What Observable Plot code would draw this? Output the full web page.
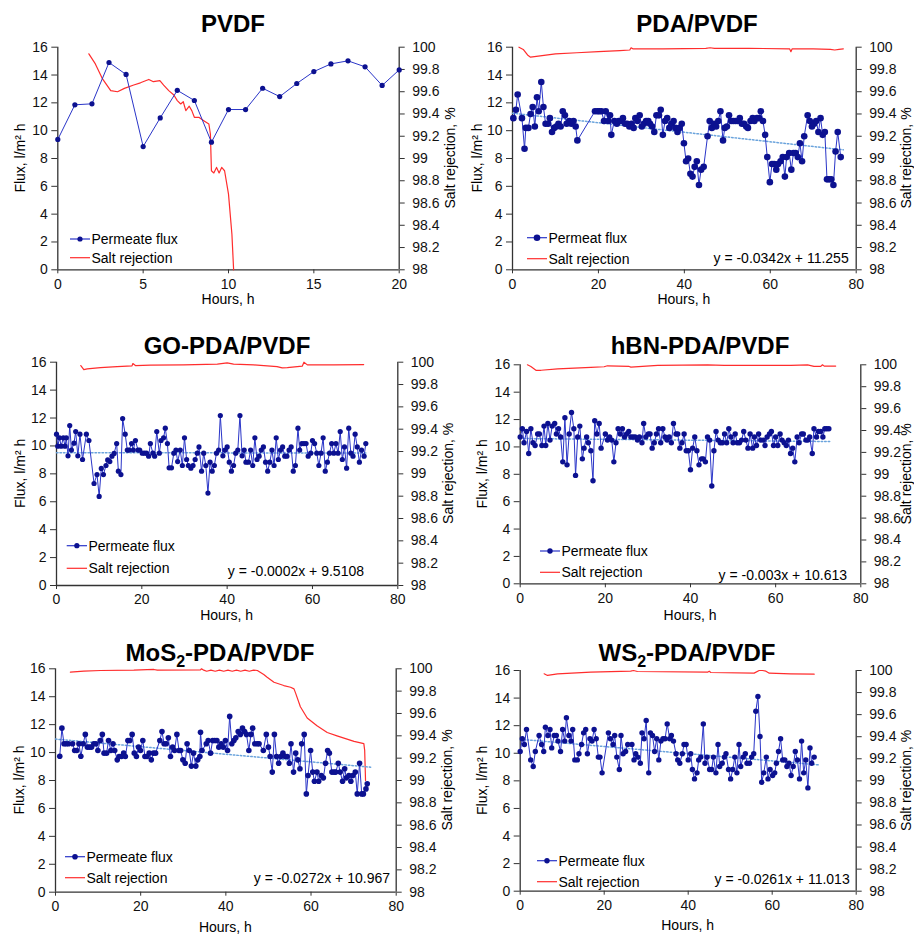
<!DOCTYPE html>
<html><head><meta charset="utf-8">
<script src="https://cdn.jsdelivr.net/npm/d3@7"></script>
<script src="https://cdn.jsdelivr.net/npm/@observablehq/plot@0.6"></script>
<style>
body{margin:0;background:#fff;}
#root{position:relative;width:914px;height:935px;overflow:hidden;background:#fff;}
#root svg{position:absolute;overflow:visible;}
</style></head><body><div id="root"></div>
<script>
// ---------- tick values / labels ----------
const fluxTicks = [0, 2, 4, 6, 8, 10, 12, 14, 16];
const srTicks = [98, 98.2, 98.4, 98.6, 98.8, 99, 99.2, 99.4, 99.6, 99.8, 100];
const xTicksShort = [0, 5, 10, 15, 20];
const xTicksLong = [0, 20, 40, 60, 80];
const titles = ["PVDF", "PDA/PVDF", "GO-PDA/PVDF", "hBN-PDA/PVDF", "MoS₂-PDA/PVDF", "WS₂-PDA/PVDF"];
const fluxLegend = ["Permeate flux", "Permeat flux", "Permeate flux", "Permeate flux", "Permeate flux", "Permeate flux"];
const srLegend = "Salt rejection";
const yLabel = "Flux, l/m² h";
const y2Label = "Salt rejection, %";
const xLabel = "Hours, h";
const equations = [null, "y = -0.0342x + 11.255", "y = -0.0002x + 9.5108", "y = -0.003x + 10.613", "y = -0.0272x + 10.967", "y = -0.0261x + 11.013"];
const trendSlope = [null, -0.0342, -0.0002, -0.003, -0.0272, -0.0261];
const trendIntercept = [null, 11.255, 9.5108, 10.613, 10.967, 11.013];
const trendEnd = [null, 77, 72.5, 73, 74, 71];

// ---------- PVDF ----------
const pvdfHours = [0,1,2,3,4,5,6,7,8,9,10,11,12,13,14,15,16,17,18,19,20];
const pvdfFlux = [9.37,11.86,11.93,14.9,14.04,8.86,10.92,12.9,12.17,9.17,11.52,11.52,13.05,12.45,13.39,14.25,14.8,15.02,14.59,13.25,14.37];
const pvdfSrHours = [1.82,2.2,2.6,3.1,3.5,3.9,4.45,4.84,5.33,5.6,5.98,6.2,6.5,6.8,7.0,7.2,7.35,7.5,7.7,7.85,8.0,8.26,8.55,8.85,8.94,9.0,9.14,9.3,9.45,9.6,9.77,10.0,10.2,10.3];
const pvdfSr = [99.94,99.85,99.72,99.61,99.60,99.63,99.66,99.68,99.71,99.69,99.70,99.66,99.61,99.57,99.52,99.49,99.51,99.43,99.47,99.43,99.37,99.37,99.34,99.31,99.22,98.89,98.87,98.92,98.87,98.92,98.89,98.68,98.32,98.0];

// ---------- PDA/PVDF ----------
const pdaHours = [0.2,0.8,1.2,2.2,2.8,3.1,3.7,4.2,4.7,5.2,5.7,6.1,6.7,7.2,7.7,8.3,8.7,9.2,9.7,10.2,10.7,11.2,11.7,12.2,12.6,13.2,13.7,14.2,14.7,15.1,19.2,19.8,20.2,20.7,21.3,21.7,22.3,22.7,23.0,23.7,24.3,24.7,25.2,25.7,26.2,26.7,27.2,27.7,28.2,28.6,29.1,29.6,30.1,30.6,31.1,31.6,32.0,32.5,33.0,33.5,34.1,34.5,35.0,35.5,36.0,36.5,37.0,37.5,37.9,38.4,38.9,39.4,39.9,40.4,40.9,41.4,41.9,42.4,42.9,43.4,43.9,44.5,45.4,45.9,46.4,46.9,47.4,47.9,48.4,49.0,49.4,49.9,50.4,50.9,51.4,51.9,52.4,52.9,53.4,53.9,54.4,54.8,55.4,55.9,56.3,56.9,57.4,57.8,58.3,58.8,59.3,59.9,60.4,60.9,61.4,61.8,62.4,62.9,63.4,63.8,64.4,64.9,65.4,65.9,66.4,66.9,67.4,67.9,68.7,69.2,69.7,70.2,70.7,71.2,71.7,72.2,72.7,73.2,73.7,74.2,74.7,75.2,75.7,76.4];
const pdaFlux = [10.9,11.5,12.6,10.9,8.7,10.2,10.2,11.2,11.7,10.3,12.4,11.4,13.5,11.7,10.5,10.5,10.9,9.9,10.2,10.3,10.5,10.3,11.4,11.1,10.5,10.7,10.5,10.7,10.3,9.3,11.4,11.4,11.4,11.4,10.7,11.4,10.7,11.1,9.7,10.7,10.5,10.7,10.7,10.9,10.5,10.5,10.3,10.5,10.2,10.9,10.7,11.1,10.3,10.5,10.7,10.7,10.5,10.3,9.9,11.1,11.1,11.5,9.7,10.7,10.9,10.2,10.5,10.7,10.2,9.9,10.2,10.5,9.1,7.8,8.0,6.9,6.7,7.4,7.8,6.1,7.2,7.4,9.6,10.7,10.2,10.5,10.3,10.7,11.4,9.3,10.2,10.3,11.1,10.7,10.7,10.7,10.7,10.9,10.5,10.5,10.3,10.2,10.7,10.9,10.7,10.9,10.9,11.4,10.7,9.7,8.1,6.3,7.6,7.6,7.2,7.6,7.8,8.1,6.7,8.1,8.4,7.2,8.4,8.4,8.1,9.1,7.8,9.6,11.1,10.7,10.3,10.5,10.7,9.9,10.9,9.7,9.9,6.5,6.5,6.5,6.1,8.5,9.9,8.1];
const pdaSrHours = [1.5,2.5,3.5,4.2,6,10,15,20,25,27.3,27.6,28,35,45,46,47,55,64.5,64.8,65.1,70,74,75,76,77];
const pdaSr = [100.0,99.98,99.93,99.91,99.92,99.94,99.95,99.96,99.97,99.975,99.995,99.985,99.985,99.99,99.995,99.99,99.99,99.985,99.96,99.985,99.985,99.98,99.975,99.98,99.985];

// ---------- GO-PDA/PVDF ----------
const goHours = [0,0.3,0.7,1.1,1.6,2.0,2.3,2.7,3.1,3.5,4.1,4.5,5.0,5.5,6.1,7.0,7.6,8.8,9.5,10.0,10.5,11.0,11.6,12.0,12.5,13.0,13.5,14.1,14.5,15.1,15.5,16.1,16.6,17.0,17.6,18.0,18.5,19.1,19.5,20.1,20.6,21.1,21.6,22.0,22.6,23.0,23.5,24.1,24.5,25.1,25.5,26.0,26.4,26.95,27.5,28.0,28.4,29.0,29.5,30.0,30.5,30.9,31.5,32.0,32.5,33.0,33.4,34.0,34.5,35.0,35.5,36.0,36.5,37.0,37.5,38.0,38.4,39.0,39.5,40.0,40.5,41.0,41.5,42.0,42.5,43.0,43.5,44.0,44.4,45.0,45.5,46.0,46.5,47.0,47.5,48.0,48.5,49.0,49.5,50.0,50.5,51.0,51.5,52.0,52.5,53.0,53.5,54.0,54.5,55.0,55.5,56.0,56.6,57.0,57.5,58.0,58.5,59.0,59.6,60.0,60.5,61.0,61.5,62.0,62.5,63.0,63.5,64.0,64.5,65.0,65.5,66.0,66.5,67.0,67.5,68.0,68.5,69.0,69.5,70.0,70.5,71.0,71.5,72.1,72.5];
const goFlux = [10.84,9.98,10.58,9.98,10.58,9.98,10.58,9.29,11.46,9.7,10.2,11.03,9.29,10.84,9.03,10.84,10.39,7.31,7.95,6.38,8.39,7.95,8.6,9.0,8.88,9.27,9.46,10.17,8.19,7.95,11.96,10.84,9.7,9.7,10.17,9.7,10.39,9.7,9.7,9.48,9.48,9.48,9.27,10.17,9.48,9.27,11.03,9.48,10.39,10.58,11.27,10.17,8.43,8.43,9.48,9.7,8.88,9.7,8.6,10.58,9.03,8.6,8.41,8.6,9.03,9.48,9.93,8.19,9.48,8.6,6.62,8.84,8.19,8.6,9.48,9.7,12.18,9.29,9.7,9.93,8.84,8.19,8.6,9.48,9.7,12.18,9.29,9.7,8.84,8.84,9.7,8.6,10.58,9.03,9.27,9.7,9.93,8.84,8.19,8.84,9.7,8.6,10.58,9.03,9.7,9.93,9.27,9.27,9.7,9.93,8.19,8.6,11.27,9.7,10.17,10.17,10.17,9.27,9.48,10.39,10.17,9.48,8.6,9.48,10.58,8.19,8.84,9.48,10.17,9.48,10.17,9.48,11.03,9.03,9.93,8.41,11.27,9.48,9.27,10.84,9.93,8.84,9.7,9.27,10.17];
const goSrHours = [5.7,6.4,7.2,10.3,14.2,17.7,17.9,18.5,22,29.8,37.7,40,41.5,46.25,51.7,52.9,54.1,57.6,58,58.8,65,72];
const goSr = [99.97,99.934,99.94,99.952,99.961,99.967,99.988,99.97,99.973,99.976,99.982,99.994,99.982,99.976,99.96,99.949,99.952,99.964,100.0,99.976,99.976,99.979];

// ---------- hBN-PDA/PVDF ----------
const hbnHours = [0,0.5,0.9,1.5,2.0,2.5,3.0,3.5,4.1,4.5,5.1,5.6,6.0,6.5,7.0,7.5,8.1,8.5,9.0,9.5,10.0,10.5,11.0,11.5,12.05,12.6,13.0,13.5,14.0,14.6,15.0,15.6,16.0,16.6,17.1,17.5,18.0,18.55,19.0,20.0,20.5,21.0,21.5,22.0,22.5,23.0,23.5,24.0,24.5,25.0,25.5,26.0,26.5,27.0,27.55,28.0,28.6,29.0,29.5,30.1,30.5,31.0,31.5,32.0,32.5,33.0,33.5,34.0,34.5,35.0,35.5,36.0,36.6,37.0,37.5,38.0,38.5,39.0,39.5,40.0,40.5,41.0,41.5,42.0,42.6,43.0,43.5,44.0,44.5,45.0,45.5,46.0,46.5,47.0,47.5,48.0,48.5,49.0,49.5,50.0,50.5,51.0,51.5,52.0,52.5,53.0,53.5,54.0,54.6,55.0,55.5,56.0,56.5,57.1,57.5,58.0,58.55,59.0,59.5,60.0,60.5,61.05,61.5,62.0,62.5,63.0,63.5,64.0,64.5,65.05,65.5,66.1,66.5,67.1,67.55,68.0,68.6,69.0,69.6,70.05,70.6,71.1,71.55,72.0,72.5];
const hbnFlux = [10.72,11.33,10.3,11.13,9.52,11.33,10.3,10.1,10.94,10.94,10.1,11.52,10.1,11.71,10.5,11.52,11.71,10.94,11.33,10.72,8.91,12.13,8.69,10.94,12.52,11.33,7.92,10.72,11.52,9.13,9.91,10.72,10.3,9.72,7.53,11.91,10.94,11.71,9.91,10.94,10.5,10.72,10.5,8.91,10.3,11.33,10.94,11.33,10.72,10.94,11.13,10.72,10.72,10.72,10.5,10.72,10.3,11.71,10.72,10.94,10.94,9.91,10.3,10.94,11.33,10.3,11.33,10.72,10.5,10.72,10.3,11.71,10.94,10.94,9.91,10.3,10.94,9.72,9.72,8.33,9.91,10.72,9.72,8.69,9.13,9.13,8.91,10.72,10.5,7.14,9.72,11.13,10.5,10.3,10.3,10.94,10.3,11.33,10.72,10.3,10.94,10.3,10.3,10.5,11.13,10.5,9.91,10.94,9.91,10.72,10.1,10.94,10.5,10.5,10.1,10.72,10.94,11.13,10.1,10.72,10.1,10.94,10.5,10.3,10.1,10.5,9.52,9.91,8.91,10.72,10.3,10.94,10.94,10.5,10.5,10.72,9.52,11.33,10.72,11.13,11.13,10.72,11.33,11.33,11.33];
const hbnSrHours = [1.7,2.5,3.7,4.9,8.8,16.6,19.7,20.5,25.6,26,32.3,44,47.9,63.6,67.5,69,70.6,71,71.4,74.1];
const hbnSr = [100.0,99.985,99.95,99.95,99.963,99.976,99.982,99.991,99.985,99.979,99.994,100.0,99.994,99.994,100.0,99.985,99.985,100.0,99.988,99.988];

// ---------- MoS2-PDA/PVDF ----------
const mosHours = [1.0,1.5,2.0,2.5,3.05,4.0,4.5,5.0,5.5,5.95,6.5,7.0,7.5,8.0,8.45,9.0,9.5,9.95,10.5,11.0,11.4,12.0,12.45,13.0,13.5,13.9,14.5,14.95,15.5,16.0,16.4,17.0,17.45,18.0,18.5,19.0,19.5,19.95,20.5,21.0,21.5,22.0,22.5,23.0,23.5,24.5,25.0,25.5,26.0,26.5,27.0,27.5,27.95,28.5,29.0,29.4,29.9,30.45,30.9,31.4,31.9,32.4,32.95,33.4,33.9,34.05,34.4,35.4,35.85,36.4,36.9,37.4,37.9,38.35,38.9,39.4,39.9,40.4,40.9,41.4,41.9,42.35,42.9,43.4,43.9,44.4,44.85,45.4,45.9,46.3,46.8,47.4,47.8,48.8,49.5,50.0,50.4,50.9,51.4,51.9,52.4,52.9,53.4,53.9,54.4,54.9,55.3,55.9,56.4,56.9,57.4,57.8,58.4,58.9,59.3,59.9,60.4,60.8,61.4,61.8,62.4,62.9,63.4,63.9,64.3,64.9,65.4,65.8,66.4,66.85,67.4,67.9,68.3,68.9,69.35,69.8,70.4,70.85,71.4,71.9,72.3,72.9,73.2];
const mosFlux = [9.74,11.75,10.63,10.63,10.63,10.63,10.15,10.15,10.63,9.74,10.63,11.3,10.39,10.39,10.39,10.63,10.63,10.15,10.87,11.3,9.96,9.96,10.87,10.15,10.63,10.15,9.48,9.72,9.72,9.96,9.72,10.87,10.87,11.3,9.96,9.72,10.39,10.15,10.87,9.72,9.72,9.96,9.48,9.96,9.96,10.87,11.51,10.63,10.63,11.06,9.72,10.39,10.15,11.3,10.15,10.15,9.48,9.24,10.63,10.15,9.03,9.96,9.03,9.48,9.72,11.46,10.15,10.63,10.87,9.96,10.87,10.87,10.87,10.39,10.63,10.39,10.87,10.15,12.59,10.63,10.87,11.06,11.51,11.3,11.75,11.51,11.3,10.15,11.3,11.75,10.63,10.63,10.63,10.15,11.3,10.39,9.72,8.6,11.3,9.72,9.24,9.72,9.96,9.72,9.72,9.24,10.63,8.6,9.96,9.48,8.84,10.63,11.3,7.04,8.36,10.15,8.6,7.95,8.6,7.95,8.36,8.19,9.24,10.15,9.96,8.6,8.6,8.6,9.24,8.6,7.95,8.84,8.19,8.36,7.95,8.36,8.6,7.04,9.24,7.04,7.04,7.4,7.76];
const mosSrHours = [3.5,6.65,10.6,18.4,23.1,23.9,34.05,34.3,34.8,35.5,36.5,37.5,38.5,39.5,40.5,41.5,42.5,43.5,44.5,45.5,46.5,47.4,48.9,49.7,51.3,53.6,55.2,56.0,56.4,57.5,59.1,61.4,63.8,66.1,70.1,72.4,72.6,72.8];
const mosSr = [99.97,99.979,99.985,99.988,99.994,99.988,99.991,100.0,99.988,99.978,99.988,99.978,99.988,99.978,99.988,99.978,99.988,99.978,99.988,99.978,99.988,99.985,99.949,99.925,99.88,99.85,99.835,99.82,99.78,99.66,99.56,99.49,99.43,99.40,99.35,99.33,99.27,99.0];

// ---------- WS2-PDA/PVDF ----------
const wsHours = [0,0.5,1.0,1.5,2.5,3.1,3.6,4.5,5.1,5.6,6.0,6.6,7.1,7.5,8.1,8.6,9.0,9.6,10.1,10.6,11.0,11.6,12.1,12.5,13.0,13.6,14.0,14.6,15.1,15.6,16.0,16.6,17.1,17.6,18.1,18.6,19.0,19.5,21.0,21.5,22.1,22.5,23.0,23.6,24.0,24.5,25.1,25.6,26.6,27.1,27.5,28.0,28.6,29.0,29.5,30.0,30.6,31.0,31.5,32.0,32.5,33.0,33.5,34.0,34.5,35.0,35.6,36.0,36.5,37.1,37.5,38.0,38.6,39.0,39.5,40.0,40.6,41.0,41.5,42.1,42.5,43.0,43.6,44.0,44.5,45.1,45.6,46.0,46.6,47.1,47.5,48.1,48.6,49.0,49.6,50.1,50.6,51.1,51.6,52.1,52.5,53.1,53.6,54.0,54.6,55.1,55.6,56.1,56.6,57.1,57.5,58.0,58.6,59.0,59.5,60.1,60.6,61.0,61.5,62.0,62.5,63.0,63.5,64.0,64.5,65.0,65.5,66.0,66.5,67.0,67.5,68.0,68.5,69.0,69.4,70.0];
const wsFlux = [10.13,11.05,10.64,11.72,9.52,9.04,10.13,11.29,10.64,10.13,11.89,11.29,11.72,10.39,11.29,11.29,10.88,10.13,11.72,10.88,12.57,11.29,10.88,11.72,9.52,9.52,9.96,10.64,11.48,11.72,9.96,11.05,10.88,11.72,11.05,9.72,9.72,8.58,11.48,11.05,10.64,11.29,9.72,8.82,11.29,9.96,10.13,10.64,10.64,9.52,9.96,9.72,9.28,11.48,11.05,12.37,8.58,11.48,11.29,10.13,11.05,9.52,10.88,11.05,11.05,12.13,11.05,11.29,10.88,9.96,9.52,9.28,9.96,10.64,10.64,9.52,9.96,8.82,8.14,8.58,9.52,9.72,12.13,9.28,9.72,8.82,8.82,9.72,8.58,10.64,9.04,9.28,9.72,9.96,8.82,8.14,8.82,9.72,8.58,10.64,9.04,9.72,9.96,9.28,9.28,9.72,9.96,13.05,14.11,11.21,7.9,8.58,9.72,8.14,8.82,8.39,8.58,9.28,10.13,11.05,9.52,9.52,9.04,9.28,8.39,9.04,10.13,9.52,8.14,10.88,8.58,9.52,7.49,10.39,9.28,9.72];
const wsSrHours = [5.7,6.5,8.9,16.8,26.3,27,27.9,44.6,45,45.4,55.7,56.9,57.7,58.5,59.3,64.4,70.0];
const wsSr = [99.97,99.955,99.97,99.985,99.994,100.0,99.991,99.985,99.994,99.982,99.976,100.0,100.0,99.994,99.976,99.97,99.967];

// ---------- panel assembly ----------
const FONT = '"Liberation Sans", Arial, Helvetica, sans-serif';
const series = [
  {hours: pvdfHours, flux: pvdfFlux, srH: pvdfSrHours, sr: pvdfSr},
  {hours: pdaHours, flux: pdaFlux, srH: pdaSrHours, sr: pdaSr},
  {hours: goHours, flux: goFlux, srH: goSrHours, sr: goSr},
  {hours: hbnHours, flux: hbnFlux, srH: hbnSrHours, sr: hbnSr},
  {hours: mosHours, flux: mosFlux, srH: mosSrHours, sr: mosSr},
  {hours: wsHours, flux: wsFlux, srH: wsSrHours, sr: wsSr}
];
// layout (page pixel coordinates)
const layout = [
  {ox:0,   oy:0,   H:308, L:57.3, R:398.7, T:46.7,  B:269.3, xMax:20, xt:xTicksShort, tx:233, ty:23,  hy:299,   fx:20,   sx:450, lg:[70,90,239,257.7],     eq:null,          r:2.6},
  {ox:457, oy:0,   H:308, L:512,  R:855.7, T:46.7,  B:269.3, xMax:80, xt:xTicksLong,  tx:697, ty:23,  hy:299,   fx:477,  sx:906, lg:[527,547,237.7,258.7], eq:[848.7,258],    r:3.3},
  {ox:0,   oy:308, H:310, L:56,   R:397.3, T:361.7, B:585,   xMax:80, xt:xTicksLong,  tx:227, ty:345, hy:615,   fx:20,   sx:448, lg:[66.7,87,545.7,568.3], eq:[364,570.7],    r:2.6},
  {ox:457, oy:308, H:310, L:519.7,R:860.3, T:364.3, B:583.3, xMax:80, xt:xTicksLong,  tx:700, ty:345, hy:615,   fx:482,  sx:905.5, lg:[540,560,551,572.3],   eq:[847,575],      r:2.7},
  {ox:0,   oy:618, H:317, L:55,   R:395.7, T:668.3, B:891.7, xMax:80, xt:xTicksLong,  tx:220, ty:652, hy:926.5, fx:18.5, sx:447, lg:[65,85,856.7,877.7],   eq:[390,878],      r:2.8},
  {ox:457, oy:618, H:317, L:519.7,R:855.7, T:670,   B:890.7, xMax:80, xt:xTicksLong,  tx:687, ty:652, hy:925,   fx:482,  sx:906, lg:[537,557,860.7,881.7], eq:[849.7,878.7],  r:2.7}
];

const BLUE_LINE = "#2a35c8";
const BLUE_DOT = "#0c1190";
const RED = "#ff2d2d";
const TREND = "#6aa3dc";
const AXIS = "#333";
const toY = v => (v - 98) * 8; // salt rejection % mapped onto the flux scale (98..100 -> 0..16)

const root = document.getElementById("root");

series.forEach((s, k) => {
  const p = layout[k];
  const n = Math.min(s.hours.length, s.flux.length);
  const fluxData = d3.range(n).map(i => ({h: s.hours[i], f: s.flux[i]}));
  const m = Math.min(s.srH.length, s.sr.length);
  const srData = d3.range(m).map(i => ({h: s.srH[i], f: toY(s.sr[i])}));
  const marks = [
    Plot.axisY(fluxTicks, {anchor: "left", tickSize: 6, tickPadding: 4, label: null, stroke: AXIS}),
    Plot.axisY(srTicks.map(toY), {anchor: "right", tickSize: 5, tickPadding: 8, label: null, stroke: AXIS,
      tickFormat: d => String(Math.round((98 + d / 8) * 10) / 10)}),
    Plot.axisX(p.xt, {anchor: "bottom", tickSize: 4, tickPadding: 5, label: null, stroke: AXIS}),
    Plot.ruleX([0], {stroke: AXIS, strokeWidth: 1.3}),
    Plot.ruleX([p.xMax], {stroke: AXIS, strokeWidth: 1.3}),
    Plot.ruleY([0], {stroke: AXIS, strokeWidth: 1.3}),
    Plot.line(srData, {x: "h", y: "f", stroke: RED, strokeWidth: 1.2})
  ];
  if (trendSlope[k] != null) {
    const ends = [0, trendEnd[k]].map(h => ({h, f: trendSlope[k] * h + trendIntercept[k]}));
    marks.push(Plot.line(ends, {x: "h", y: "f", stroke: TREND, strokeWidth: 1.5, strokeDasharray: "1.5,2"}));
  }
  marks.push(Plot.line(fluxData, {x: "h", y: "f", stroke: BLUE_LINE, strokeWidth: 1}));
  marks.push(Plot.dot(fluxData, {x: "h", y: "f", r: p.r, fill: BLUE_DOT, stroke: "none"}));

  const W = 457;
  const svg = Plot.plot({
    width: W, height: p.H,
    marginLeft: p.L - p.ox, marginRight: p.ox + W - p.R,
    marginTop: p.T - p.oy, marginBottom: p.oy + p.H - p.B,
    x: {domain: [0, p.xMax]},
    y: {domain: [0, 16]},
    style: {fontFamily: FONT, fontSize: "14px", color: "#111", background: "transparent", overflow: "visible"},
    marks
  });
  svg.style.left = p.ox + "px";
  svg.style.top = p.oy + "px";
  root.appendChild(svg);

  const g = d3.select(svg).append("g").attr("font-family", FONT).attr("fill", "#000").attr("text-anchor", "start");
  const X = v => v - p.ox, Y = v => v - p.oy;
  // title (with subscript 2 where needed)
  const t = g.append("text").attr("x", X(p.tx)).attr("y", Y(p.ty + 8.5))
    .attr("text-anchor", "middle").attr("font-size", 24).attr("font-weight", "bold");
  titles[k].split("₂").forEach((part, j, arr) => {
    t.append("tspan").text(part).attr("dy", j === 0 ? 0 : -6).attr("font-size", 24);
    if (j < arr.length - 1) t.append("tspan").text("2").attr("font-size", 16).attr("dy", 6);
  });
  // axis titles
  const midY = (p.T + p.B) / 2;
  g.append("text").attr("transform", `translate(${X(p.fx)},${Y(midY)}) rotate(-90)`)
    .attr("text-anchor", "middle").attr("dominant-baseline", "central").attr("font-size", 14).text(yLabel);
  g.append("text").attr("transform", `translate(${X(p.sx)},${Y(midY)}) rotate(-90)`)
    .attr("text-anchor", "middle").attr("dominant-baseline", "central").attr("font-size", 14).text(y2Label);
  g.append("text").attr("x", X((p.L + p.R) / 2)).attr("y", Y(p.hy))
    .attr("text-anchor", "middle").attr("dominant-baseline", "central").attr("font-size", 14).text(xLabel);
  // legend
  const [x0, x1, y1, y2] = p.lg;
  g.append("line").attr("x1", X(x0)).attr("x2", X(x1)).attr("y1", Y(y1)).attr("y2", Y(y1)).attr("stroke", BLUE_LINE).attr("stroke-width", 1.2);
  g.append("circle").attr("cx", X((x0 + x1) / 2)).attr("cy", Y(y1)).attr("r", p.r).attr("fill", BLUE_DOT);
  g.append("text").attr("x", X(x1 + 1.5)).attr("y", Y(y1)).attr("text-anchor", "start").attr("dominant-baseline", "central").attr("font-size", 14).text(fluxLegend[k]);
  g.append("line").attr("x1", X(x0)).attr("x2", X(x1)).attr("y1", Y(y2)).attr("y2", Y(y2)).attr("stroke", RED).attr("stroke-width", 1.2);
  g.append("text").attr("x", X(x1 + 1.5)).attr("y", Y(y2)).attr("text-anchor", "start").attr("dominant-baseline", "central").attr("font-size", 14).text(srLegend);
  // equation
  if (equations[k]) {
    g.append("text").attr("x", X(p.eq[0])).attr("y", Y(p.eq[1])).attr("text-anchor", "end")
      .attr("dominant-baseline", "central").attr("font-size", 14).text(equations[k]);
  }
});
</script>
</body></html>
